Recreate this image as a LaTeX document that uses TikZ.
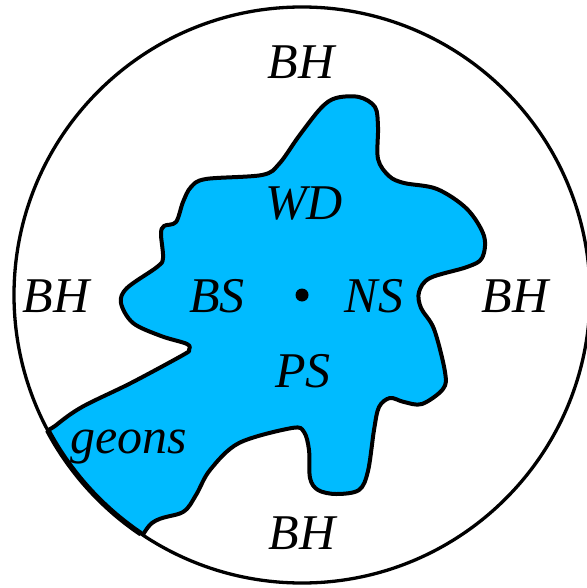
\documentclass[tikz,border=0pt]{standalone}
\usepackage{fontspec}
\setmainfont{Liberation Serif}
\usetikzlibrary{calc}
\definecolor{blobblue}{HTML}{00BBFF}

\begin{document}
\begin{tikzpicture}[x=1pt, y=-1pt,
        lbl/.style={font=\fontsize{50}{52}\selectfont\itshape, inner sep=0pt,
                    anchor=base},
        rim/.style={draw=black, line width=3.3pt},
        blob/.style={fill=blobblue, draw=black, line width=4pt,
                     line join=round}
    ]
        \useasboundingbox (0,0) rectangle (586,588);
        \coordinate (c) at (302,295);
        % region of the blob, cut off by the rim at lower left
        \begin{scope}
            \clip (c) circle[radius=288pt];
            \filldraw[blob] plot[smooth cycle, tension=0.55] coordinates {
                (183,355) (131,383) (82,407) (55,426) (25,452) (70,520)
                (120,560) (152,523) (183,512) (196,495) (210,470) (239,443)
                (292,428) (304,432) (309,450) (310,478) (318,490) (336,494)
                (359,490) (368,471) (374,430) (379,407) (390,398) (404,402)
                (422,404) (443,389) (445,372) (434,329) (421,308) (419,292)
                (430,278) (467,267) (482,258) (484,236) (467,209) (437,189)
                (404,183) (389,176) (378,159) (378,127) (375,107) (359,97)
                (336,98) (321,108) (299,136) (279,164) (262,175) (206,179)
                (191,187) (183,202) (176,222) (164,226) (161,234) (163,258)
                (157,267) (127,288) (121,303) (133,323) (161,336) (187,344)
                (189,350)};
        \end{scope}
        \draw[rim] (c) circle[radius=288pt];
        \draw[line width=5.5pt] ($(c)+(208:288pt)$)
            arc[start angle=208, end angle=236, radius=288pt];
        \fill (c) circle[radius=6.5pt];
        % labels
        \node[lbl] (bhn) at (301,79) {BH};
        \node[lbl] (bhw) at (56,312) {BH};
        \node[lbl] (bhe) at (515,312) {BH};
        \node[lbl] (bhs) at (302,549) {BH};
        \node[lbl] (wd) at (304,219) {WD};
        \node[lbl] (bs) at (217,312) {BS};
        \node[lbl] (ns) at (374,312) {NS};
        \node[lbl] (ps) at (303,387) {PS};
        \node[lbl] (geons) at (129,453) {geons};
    \end{tikzpicture}
\end{document}
